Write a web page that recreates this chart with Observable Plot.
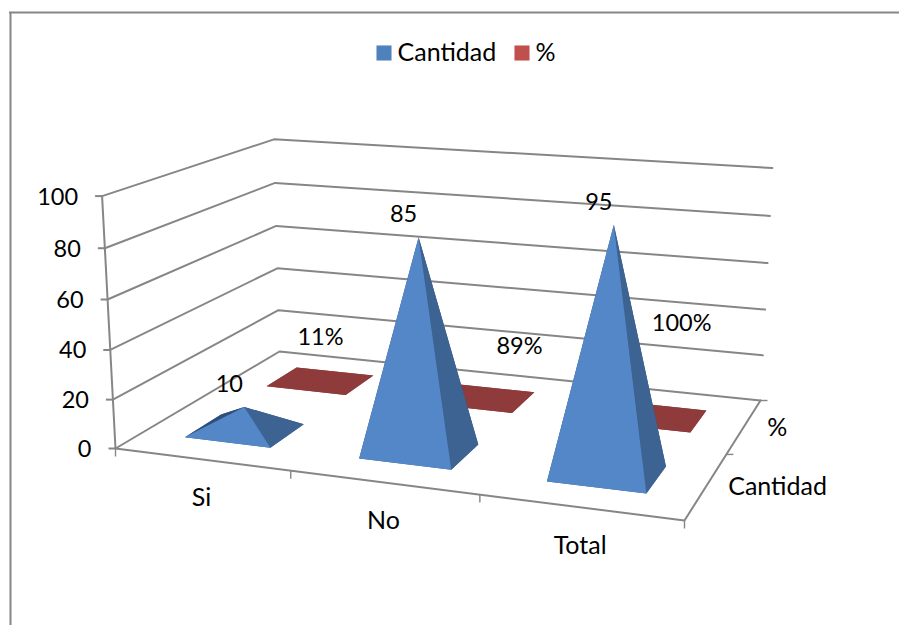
<!DOCTYPE html>
<html><head><meta charset="utf-8">
<script src="https://cdn.jsdelivr.net/npm/d3@7"></script>
<script src="https://cdn.jsdelivr.net/npm/@observablehq/plot@0.6"></script>
<style>html,body{margin:0;padding:0;background:#fff}svg{display:block}</style>
</head><body><div id="chart"></div>
<script>
// ---- data ----
const categories = ["Si", "No", "Total"];
const seriesNames = ["Cantidad", "%"];
const cantidad = [10, 85, 95];
const porcentaje = [0.11, 0.89, 1];
const porcentajeLabels = ["11%", "89%", "100%"];
const valueTicks = [0, 20, 40, 60, 80, 100];

// ---- camera: projects (category, series, value) to the page ----
const floorQuad = [[115, 448], [684, 520], [760, 400], [279, 351]];   // s,t = 00,10,11,01
const topAnchors = [[0, 0, 102, 196], [0, 1, 273, 139], [1, 1, 772, 167]];
const nCat = categories.length, nSer = seriesNames.length, maxV = 100;

function floorMatrix([[x0, y0], [x1, y1], [x2, y2], [x3, y3]]) {
  const dx1 = x1 - x2, dx2 = x3 - x2, sx = x0 - x1 + x2 - x3;
  const dy1 = y1 - y2, dy2 = y3 - y2, sy = y0 - y1 + y2 - y3;
  const den = dx1 * dy2 - dx2 * dy1;
  const g = (sx * dy2 - dx2 * sy) / den, h = (dx1 * sy - sx * dy1) / den;
  return [x1 - x0 + g * x1, x3 - x0 + h * x3, x0, y1 - y0 + g * y1, y3 - y0 + h * y3, y0, g, h, 1];
}
const H = floorMatrix(floorQuad);
const hom = (s, t) => [H[0]*s + H[1]*t + H[2], H[3]*s + H[4]*t + H[5], H[6]*s + H[7]*t + H[8]];
function solve3(M, b) {
  const a = M.map((r, i) => [...r, b[i]]);
  for (let i = 0; i < 3; i++) {
    let p = i; for (let r = i + 1; r < 3; r++) if (Math.abs(a[r][i]) > Math.abs(a[p][i])) p = r;
    [a[i], a[p]] = [a[p], a[i]];
    for (let r = 0; r < 3; r++) if (r !== i) { const f = a[r][i] / a[i][i]; for (let c = i; c < 4; c++) a[r][c] -= f * a[i][c]; }
  }
  return a.map((r, i) => r[3] / r[i]);
}
const up = (() => {
  const rows = [], rhs = [];
  for (const [s, t, px, py] of topAnchors) {
    const [X, Y, W] = hom(s, t);
    rows.push([1, 0, -px]); rhs.push(px * W - X);
    rows.push([0, 1, -py]); rhs.push(py * W - Y);
  }
  const M = [0,1,2].map(i => [0,1,2].map(j => d3.sum(rows, r => r[i] * r[j])));
  const b = [0,1,2].map(i => d3.sum(rows, (r, k) => r[i] * rhs[k]));
  return solve3(M, b);
})();
function project(u, v, w) {
  const [X, Y, W] = hom(u / nCat, v / nSer), k = w / maxV;
  const d = W + k * up[2];
  return { x: (X + k * up[0]) / d, y: (Y + k * up[1]) / d };
}

// ---- geometry built from the values ----
const gapU = 0.25, gapV = 0.29;
const BLUE = {base: "#3d6393", front: "#5487c7", right: "#3d6393", left: "#2f4f7a", back: "#2f4f7a"};
const RED = {base: "#8f3b3b", front: "#8f3b3b", right: "#8f3b3b", left: "#8f3b3b", back: "#8f3b3b"};
function pyramidFaces(values, s, pal) {
  const out = [];
  values.forEach((val, i) => {
    const u0 = i + gapU, u1 = i + 1 - gapU, v0 = s + gapV, v1 = s + 1 - gapV;
    const FL = project(u0, v0, 0), FR = project(u1, v0, 0), BR = project(u1, v1, 0), BL = project(u0, v1, 0);
    const A = project(i + .5, s + .5, val);
    const faces = [["base", [FL, FR, BR, BL]], ["back", [BL, BR, A]], ["left", [BL, FL, A]], ["right", [FR, BR, A]], ["front", [FL, FR, A]]];
    for (const [name, pts] of faces) for (const p of pts) out.push({...p, face: `${s}-${i}-${name}`, color: pal[name]});
  });
  return out;
}
const gridPts = valueTicks.flatMap(w => [project(0,0,w), project(0,nSer,w), project(nCat,nSer,w)].map(p => ({...p, w})));
const floorEdge = [project(0,0,0), project(nCat,0,0), project(nCat,nSer,0)];
const valueAxis = [project(0,0,0), project(0,0,maxV)];
const valTickData = valueTicks.map(w => ({w, ...project(0,0,w)}));
const catTicks = d3.range(nCat + 1).map(u => project(u,0,0));
const serTicks = d3.range(1, nSer + 1).map(v => project(nCat,v,0));

const catLabels = categories.map((c, i) => { const p = project(i + .5, 0, 0); return {t: c, x: p.x, y: p.y + 38.5}; });
const serOffsets = [[71, 1], [33, 2]];
const serLabels = seriesNames.map((c, i) => { const p = project(nCat, i + .5, 0); return {t: c, x: p.x + serOffsets[i][0], y: p.y + serOffsets[i][1]}; });
const cantLabels = cantidad.map((val, i) => { const p = project(i + .5, .5, val); return {t: String(val), x: p.x - 15, y: p.y - 22.5}; });
const pctOffsets = [[0, -43], [38, -50], [28, -91]];
const pctLabels = porcentajeLabels.map((t, i) => { const p = project(i + .5, 1.5, porcentaje[i]); return {t, x: p.x + pctOffsets[i][0], y: p.y + pctOffsets[i][1]}; });

const FONT = "Lato, Carlito, sans-serif", FS_NUM = 23.5, FS_TXT = 25, GRAY = "#868686", LW = 2;
const txt = (d, o = {}) => Plot.text(d, {x: "x", y: "y", text: "t", fontFamily: FONT, fontSize: FS_TXT, fill: "#000", ...o});
const legend = [{t: seriesNames[0], x: 397, c: "#4f81bd", sx: 383.5}, {t: seriesNames[1], x: 535, c: "#c0504d", sx: 521.5}];

const chart = Plot.plot({
  width: 899, height: 625, margin: 0,
  x: {domain: [0, 899], range: [0, 899], axis: null},
  y: {domain: [0, 625], range: [0, 625], axis: null},
  marks: [
    Plot.ruleX([10], {y1: 12, y2: 625, stroke: GRAY, strokeWidth: 2}),
    Plot.ruleY([12], {x1: 9, x2: 899, stroke: GRAY, strokeWidth: 2}),
    Plot.line(gridPts, {x: "x", y: "y", z: "w", stroke: GRAY, strokeWidth: LW}),
    Plot.line(floorEdge, {x: "x", y: "y", stroke: GRAY, strokeWidth: LW}),
    Plot.line(valueAxis, {x: "x", y: "y", stroke: GRAY, strokeWidth: LW}),
    Plot.link(valTickData, {x1: d => d.x - 7, x2: "x", y1: "y", y2: "y", stroke: GRAY, strokeWidth: LW}),
    Plot.link(catTicks, {x1: "x", x2: "x", y1: "y", y2: d => d.y + 8, stroke: GRAY, strokeWidth: 1.4}),
    Plot.link(serTicks, {x1: "x", x2: d => d.x + 7, y1: "y", y2: "y", stroke: GRAY, strokeWidth: 1.4}),
    Plot.line(pyramidFaces(porcentaje, 1, RED), {x: "x", y: "y", z: "face", fill: "color", stroke: "none"}),
    Plot.line(pyramidFaces(cantidad, 0, BLUE), {x: "x", y: "y", z: "face", fill: "color", stroke: "none"}),
    txt(valTickData.map(d => ({t: String(d.w), x: d.x - 24, y: d.y + 1})), {textAnchor: "end", fontSize: FS_NUM}),
    txt(catLabels), txt(serLabels), txt(cantLabels, {fontSize: FS_NUM}), txt(pctLabels, {fontSize: FS_NUM}),
    Plot.dot(legend, {x: "sx", y: 52.5, symbol: "square", r: 8.5, fill: "c", stroke: "none"}),
    txt(legend.map(d => ({...d, y: 52})), {textAnchor: "start"})
  ]
});
document.getElementById("chart").append(chart);
</script></body></html>
